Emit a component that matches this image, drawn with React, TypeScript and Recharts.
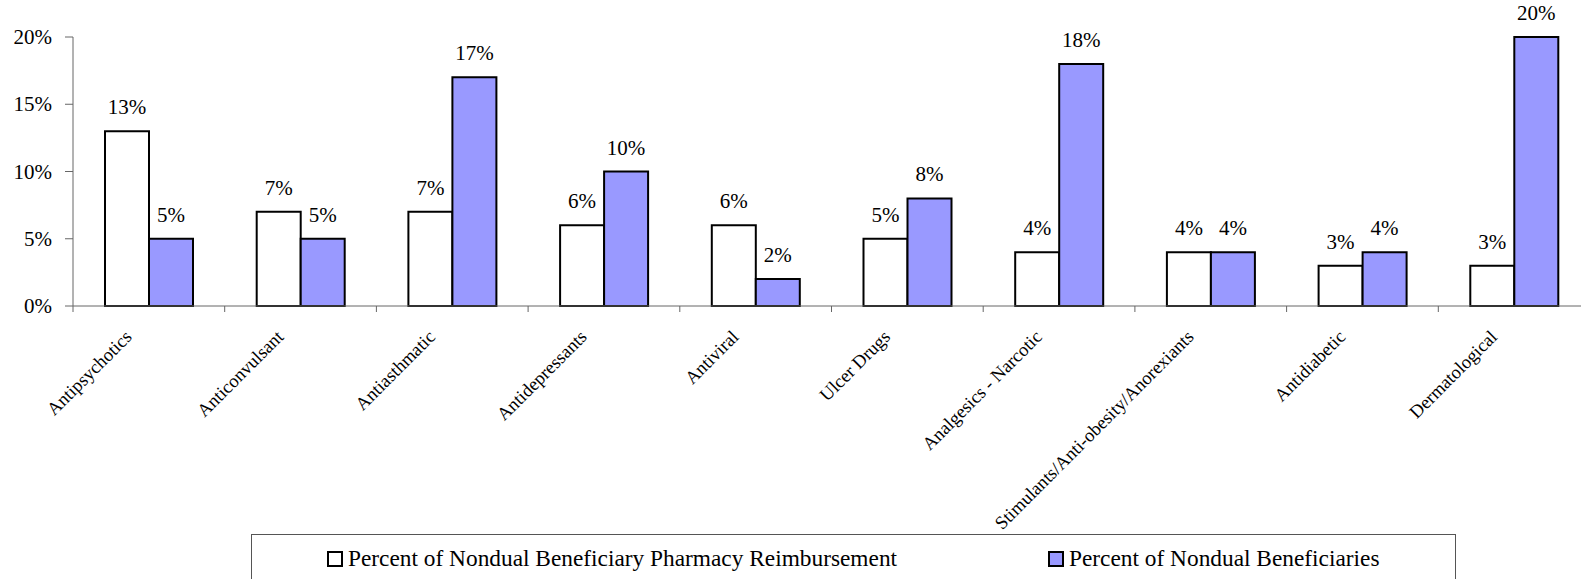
import React from 'react';
import { BarChart, Bar, XAxis, YAxis, LabelList, Legend } from 'recharts';

const categories = [
  'Antipsychotics',
  'Anticonvulsant',
  'Antiasthmatic',
  'Antidepressants',
  'Antiviral',
  'Ulcer Drugs',
  'Analgesics - Narcotic',
  'Stimulants/Anti-obesity/Anorexiants',
  'Antidiabetic',
  'Dermatological',
];
const reimbursement = [13, 7, 7, 6, 6, 5, 4, 4, 3, 3];
const beneficiaries = [5, 5, 17, 10, 2, 8, 18, 4, 4, 20];
const yTicks = [0, 5, 10, 15, 20];
const seriesNames = [
  'Percent of Nondual Beneficiary Pharmacy Reimbursement',
  'Percent of Nondual Beneficiaries',
];

const data = categories.map((c, i) => ({
  name: c,
  reimb: reimbursement[i],
  benef: beneficiaries[i],
}));

const FONT = '"Liberation Serif", "Times New Roman", Times, serif';

const XTick = (props: any) => {
  const { x, y, payload } = props;
  const half = payload && payload.offset ? payload.offset : 75.85;
  const bx = x - half;
  const px = x - 16;
  const py = y + 32;
  return (
    <g>
      <line x1={bx} y1={y} x2={bx} y2={y + 6} stroke="#666" strokeWidth={1} />
      <text
        x={px}
        y={py}
        textAnchor="end"
        transform={`rotate(-45, ${px}, ${py})`}
        style={{ fontFamily: FONT }}
        fontSize={18.5}
        fill="#000"
      >
        {payload.value}
      </text>
    </g>
  );
};

const YTick = (props: any) => {
  const { x, y, payload } = props;
  return (
    <text x={x} y={y} dy={7} textAnchor="end" style={{ fontFamily: FONT }} fontSize={21} fill="#000">
      {`${payload.value}%`}
    </text>
  );
};

const ValueLabel = (props: any) => {
  const { x, y, width, value } = props;
  const cx = Number(x) + Number(width) / 2;
  return (
    <text x={cx} y={Number(y) - 17} textAnchor="middle" style={{ fontFamily: FONT }} fontSize={21} fill="#000">
      {`${value}%`}
    </text>
  );
};

const LegendContent = () => (
  <div
    style={{
      position: 'relative',
      width: 1205,
      height: 50,
      border: '1px solid #555',
      boxSizing: 'border-box',
      fontFamily: FONT,
      fontSize: 23.35,
      color: '#000',
    }}
  >
    <div style={{ position: 'absolute', left: 75, top: 10, display: 'flex', alignItems: 'center', whiteSpace: 'nowrap' }}>
      <span style={{ display: 'inline-block', width: 12, height: 12, border: '2px solid #000', background: '#fff', marginRight: 5 }} />
      <span>{seriesNames[0]}</span>
    </div>
    <div style={{ position: 'absolute', left: 796, top: 10, display: 'flex', alignItems: 'center', whiteSpace: 'nowrap' }}>
      <span style={{ display: 'inline-block', width: 12, height: 12, border: '2px solid #000', background: '#9999FF', marginRight: 5 }} />
      <span>{seriesNames[1]}</span>
    </div>
  </div>
);

export default function App() {
  return (
    <div style={{ position: 'fixed', left: 0, top: 0, width: 1581, height: 579, overflow: 'hidden', background: '#fff', fontFamily: FONT }}>
      <BarChart
        width={1620}
        height={579}
        data={data}
        margin={{ top: 37, right: 30, left: 0, bottom: 0 }}
        barGap={0}
        style={{ fontFamily: FONT }}
      >
        <XAxis
          dataKey="name"
          height={273}
          interval={0}
          tickSize={0}
          tickMargin={0}
          tickLine={false}
          axisLine={{ stroke: '#666', strokeWidth: 1 }}
          tick={<XTick />}
        />
        <YAxis
          width={73}
          domain={[0, 20]}
          ticks={yTicks}
          interval={0}
          tickSize={8}
          tickMargin={13}
          axisLine={{ stroke: '#666', strokeWidth: 1 }}
          tickLine={{ stroke: '#666', strokeWidth: 1 }}
          tick={<YTick />}
        />
        <Legend
          layout="horizontal"
          verticalAlign="middle"
          align="center"
          content={<LegendContent />}
          wrapperStyle={{ top: 534, left: 251, width: 1205, height: 50, bottom: 'auto', right: 'auto' }}
        />
        <Bar dataKey="reimb" name={seriesNames[0]} barSize={44} fill="#FFFFFF" stroke="#000" strokeWidth={2} isAnimationActive={false}>
          <LabelList dataKey="reimb" content={<ValueLabel />} />
        </Bar>
        <Bar dataKey="benef" name={seriesNames[1]} barSize={44} fill="#9999FF" stroke="#000" strokeWidth={2} isAnimationActive={false}>
          <LabelList dataKey="benef" content={<ValueLabel />} />
        </Bar>
      </BarChart>
    </div>
  );
}
